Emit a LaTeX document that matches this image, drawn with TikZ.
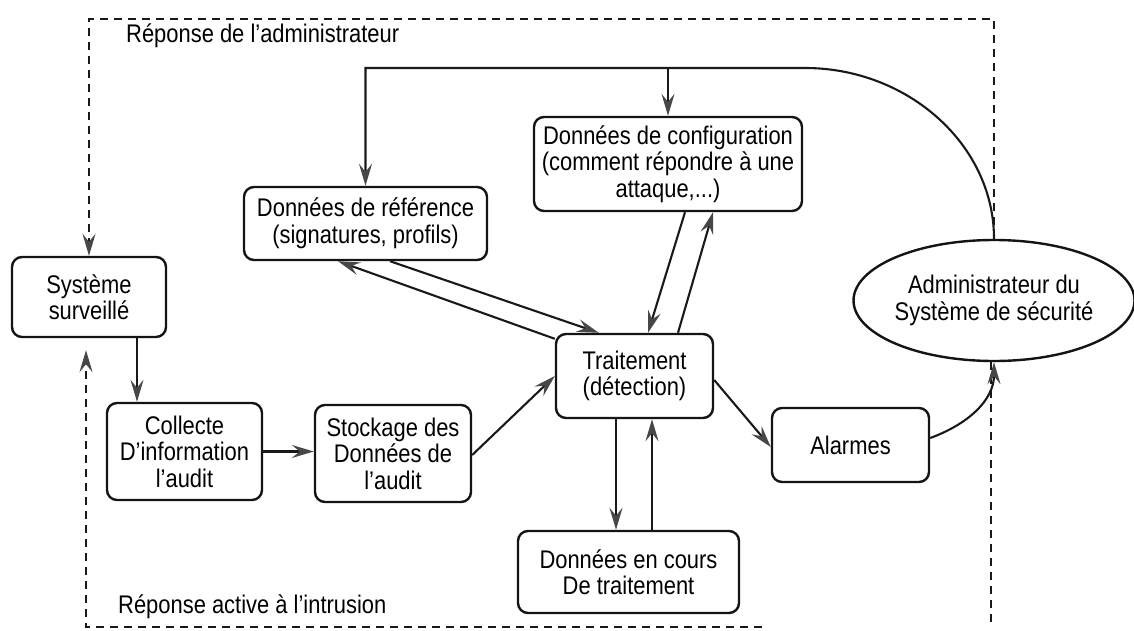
\documentclass[tikz,border=0pt]{standalone}
\usepackage{fontspec}
\setmainfont[FakeStretch=0.86]{Liberation Sans}
\usetikzlibrary{arrows.meta,shapes.geometric}

\begin{document}
\begin{tikzpicture}[
    x=1pt, y=-1pt,
    font=\fontsize{25.5}{26.5}\selectfont,
    every node/.style={inner sep=0pt, align=center},
    box/.style={draw=black!92, line width=2.4pt, rounded corners=10pt},
    wire/.style={draw=black!90, line width=2.1pt},
    tip/.style={-{Stealth[length=22pt,width=13pt,inset=8pt,fill=black!72,color=black!72]}},
    frame/.style={draw=black!90, line width=2.1pt, dash pattern=on 8pt off 6pt},
  ]
  \useasboundingbox (0,0) rectangle (1134,631);

  % processing chain
  \node[box, minimum width=154pt, minimum height=80pt] (sys) at (89,297) {Système\\surveillé};
  \node[box, minimum width=155pt, minimum height=97pt] (col) at (184.5,451.5) {Collecte\\D’information\\l’audit};
  \node[box, minimum width=156pt, minimum height=97pt] (sto) at (393,453.5) {Stockage des\\Données de\\l’audit};
  \node[box, minimum width=157pt, minimum height=84pt] (trt) at (634.5,376) {Traitement\\(détection)};
  \node[box, minimum width=243pt, minimum height=73pt] (ref) at (365.5,223.5) {Données de référence\\(signatures, profils)};
  \node[box, minimum width=268pt, minimum height=94pt] (cfg) at (668,164) {Données de configuration\\(comment répondre à une\\attaque,...)};
  \node[box, minimum width=221pt, minimum height=82pt] (enc) at (628.5,572) {Données en cours\\De traitement};
  \node[box, minimum width=157pt, minimum height=74pt] (alm) at (850.5,445) {Alarmes};
  \node[ellipse, draw=black!92, line width=2.4pt, minimum width=272pt, minimum height=121pt] (adm) at (994,300.5) {Administrateur du\\Système de sécurité};

  % loop labels
  \node[anchor=base west] (lbladm) at (126,43) {Réponse de l’administrateur};
  \node[anchor=base west] (lblint) at (118,613) {Réponse active à l’intrusion};

  % corners of the dashed response loops
  \coordinate (ftl) at (89,19);
  \coordinate (ftr) at (994,19);
  \coordinate (fbr) at (991,627);
  \coordinate (fbe) at (762,627);
  \coordinate (fbl) at (86,627);

  \draw[frame, tip] (adm.north) -- (ftr) -- (ftl) -- (sys.north);
  \draw[frame] (adm.south -| fbr) -- (fbr);
  \draw[frame, tip, shorten >=12pt] (fbe) -- (fbl) -- (fbl |- sys.south);

  % audit data flow
  \draw[wire, tip] ([xshift=48pt]sys.south) -- ([xshift=48pt]sys.south |- col.north);
  \draw[wire, tip] (col.east) -- (col.east -| sto.west);
  \draw[wire, tip] ([yshift=-1.5pt]sto.east) -- (trt.west);

  % exchanges with reference data
  \draw[wire, tip] ([xshift=24.5pt]ref.south) -- ([xshift=44pt]trt.north west);
  \draw[wire, tip] ([yshift=-6pt]trt.north west) -- ([xshift=-27.5pt]ref.south);

  % exchanges with configuration data
  \draw[wire, tip] ([xshift=17pt]cfg.south) -- ([xshift=13.5pt]trt.north);
  \draw[wire, tip] ([xshift=43.5pt]trt.north) -- ([xshift=45pt]cfg.south);

  % exchanges with working data
  \draw[wire, tip] ([xshift=-18.5pt]trt.south) -- ([xshift=-18.5pt]trt.south |- enc.north);
  \draw[wire, tip] ([xshift=17.5pt]trt.south |- enc.north) -- ([xshift=17.5pt]trt.south);

  % alarms to the administrator
  \draw[wire, tip] ([yshift=-4pt]trt.east) -- ([yshift=-2pt]alm.west);
  \draw[wire, tip] ([yshift=7pt]alm.east) to[out=20, in=-90] (adm.south);

  % administrator feedback to the stored data
  \coordinate (tc) at (805,68);
  \draw[wire, tip] (adm.north) .. controls +(0,-94) and +(103,0) .. (tc) -- (ref.north |- tc) -- (ref.north);
  \draw[wire, tip] (cfg.north |- tc) -- (cfg.north);
\end{tikzpicture}
\end{document}
